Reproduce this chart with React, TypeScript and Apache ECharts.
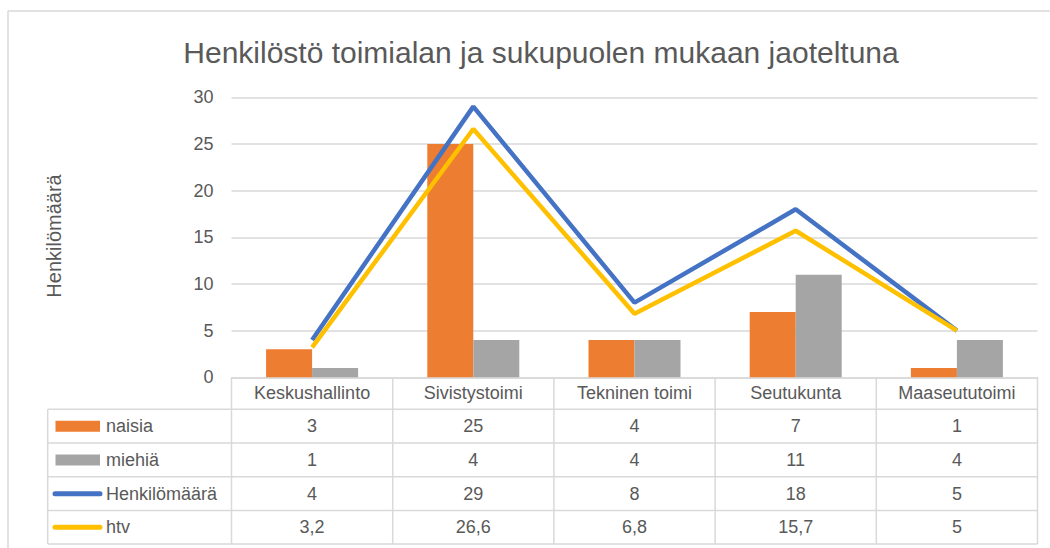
import React, { useEffect, useRef } from "react";
import * as echarts from "echarts";

const categories = ["Keskushallinto", "Sivistystoimi", "Tekninen toimi", "Seutukunta", "Maaseututoimi"];
const naisia = [3, 25, 4, 7, 1];
const miehia = [1, 4, 4, 11, 4];
const henkilomaara = [4, 29, 8, 18, 5];
const htv = [3.2, 26.6, 6.8, 15.7, 5];
const seriesNames = ["naisia", "miehiä", "Henkilömäärä", "htv"];
const yTicks = [0, 5, 10, 15, 20, 25, 30];

const COLORS = ["#ED7D31", "#A5A5A5", "#4472C4", "#FFC000"];
const TEXT = "#595959";
const LINE = "#D9D9D9";
const FONT = "'Liberation Sans', Arial, sans-serif";

export default function App() {
  const ref = useRef<HTMLDivElement>(null);
  useEffect(() => {
    if (!ref.current) return;
    const chart = echarts.init(ref.current, null, { renderer: "svg" });

    const W = 1050;
    const gridLeft = 231.5;
    const gridRight = 1037.5;
    const axisY = 377.3;
    const gridTop = 97.3;
    const legendLeft = 47.7;
    const rowLines = [409.3, 443, 476.8, 510.6, 544];
    const colW = (gridRight - gridLeft) / categories.length;
    const allData = [naisia, miehia, henkilomaara, htv];

    const graphics: any[] = [];
    graphics.push({ type: "line", shape: { x1: 8, y1: 11, x2: W, y2: 11 }, style: { stroke: LINE, lineWidth: 1.5 } });
    graphics.push({ type: "line", shape: { x1: 8, y1: 11, x2: 8, y2: 548 }, style: { stroke: LINE, lineWidth: 1.5 } });
    rowLines.forEach((y) => {
      graphics.push({ type: "line", shape: { x1: legendLeft, y1: y, x2: gridRight, y2: y }, style: { stroke: LINE, lineWidth: 1.5 } });
    });
    graphics.push({ type: "line", shape: { x1: legendLeft, y1: rowLines[0], x2: legendLeft, y2: rowLines[rowLines.length - 1] }, style: { stroke: LINE, lineWidth: 1.5 } });
    for (let i = 0; i <= categories.length; i++) {
      const x = gridLeft + i * colW;
      graphics.push({ type: "line", shape: { x1: x, y1: axisY, x2: x, y2: rowLines[rowLines.length - 1] }, style: { stroke: LINE, lineWidth: 1.5 } });
    }
    allData.forEach((arr, r) => {
      const cy = (rowLines[r] + rowLines[r + 1]) / 2;
      if (r < 2) {
        graphics.push({ type: "rect", shape: { x: 55.5, y: cy - 5.5, width: 44.5, height: 11 }, style: { fill: COLORS[r] } });
      } else {
        graphics.push({ type: "line", shape: { x1: 55, y1: cy, x2: 100, y2: cy }, style: { stroke: COLORS[r], lineWidth: 5, lineCap: "round" } });
      }
      graphics.push({
        type: "text", x: 106, y: cy,
        style: { text: seriesNames[r], fill: TEXT, font: `18px ${FONT}`, textAlign: "left", textVerticalAlign: "middle" },
      });
      arr.forEach((v, i) => {
        graphics.push({
          type: "text", x: gridLeft + (i + 0.5) * colW, y: cy,
          style: { text: String(v).replace(".", ","), fill: TEXT, font: `18px ${FONT}`, textAlign: "center", textVerticalAlign: "middle" },
        });
      });
    });
    graphics.push({
      type: "text", x: 54, y: 236, rotation: Math.PI / 2,
      style: { text: "Henkilömäärä", fill: TEXT, font: `20px ${FONT}`, textAlign: "center", textVerticalAlign: "middle" },
    });

    chart.setOption({
      animation: false,
      backgroundColor: "#ffffff",
      title: {
        text: "Henkilöstö toimialan ja sukupuolen mukaan jaoteltuna",
        left: 536, top: 32, textAlign: "center",
        textStyle: { color: TEXT, fontSize: 30, fontWeight: "normal", fontFamily: FONT },
      },
      grid: { left: gridLeft, right: W - gridRight, top: gridTop, bottom: 548 - axisY },
      xAxis: {
        type: "category",
        data: categories,
        axisLine: { show: true, lineStyle: { color: LINE, width: 1.5 } },
        axisTick: { show: false },
        axisLabel: { interval: 0, color: TEXT, fontSize: 18, fontFamily: FONT, margin: 7 },
      },
      yAxis: {
        type: "value",
        min: yTicks[0], max: yTicks[yTicks.length - 1], interval: 5,
        axisLine: { show: false },
        axisTick: { show: false },
        axisLabel: { color: TEXT, fontSize: 18, fontFamily: FONT, margin: 18 },
        splitLine: { lineStyle: { color: LINE, width: 1.5 } },
      },
      series: [
        { name: seriesNames[0], type: "bar", data: naisia, barWidth: 46, barGap: "0%", itemStyle: { color: COLORS[0] } },
        { name: seriesNames[1], type: "bar", data: miehia, barWidth: 46, barGap: "0%", itemStyle: { color: COLORS[1] } },
        { name: seriesNames[2], type: "line", data: henkilomaara, symbol: "none", lineStyle: { color: COLORS[2], width: 4.5 }, itemStyle: { color: COLORS[2] } },
        { name: seriesNames[3], type: "line", data: htv, symbol: "none", lineStyle: { color: COLORS[3], width: 4.5 }, itemStyle: { color: COLORS[3] } },
      ],
      graphic: graphics,
    });
    return () => chart.dispose();
  }, []);
  return <div ref={ref} style={{ position: "absolute", left: 0, top: 0, width: 1050, height: 548 }} />;
}
